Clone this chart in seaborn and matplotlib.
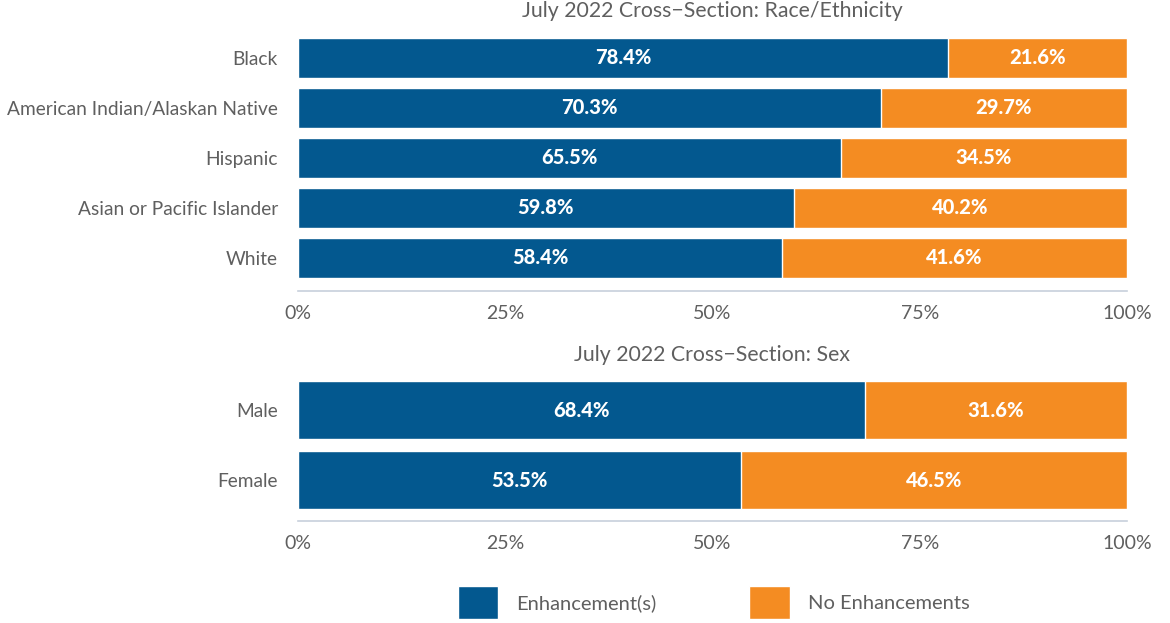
import matplotlib
matplotlib.use("Agg")
import matplotlib.pyplot as plt
import seaborn as sns
import pandas as pd
from matplotlib.patches import Patch

race_groups = ["Black", "American Indian/Alaskan Native", "Hispanic",
               "Asian or Pacific Islander", "White"]
race_enh = [78.4, 70.3, 65.5, 59.8, 58.4]
race_none = [21.6, 29.7, 34.5, 40.2, 41.6]

sex_groups = ["Male", "Female"]
sex_enh = [68.4, 53.5]
sex_none = [31.6, 46.5]

x_ticks = [0, 25, 50, 75, 100]
x_ticklabels = ["0%", "25%", "50%", "75%", "100%"]

BLUE = "#03588F"
ORANGE = "#F48C22"
GREY = "#5F5F5F"
AXIS = "#C7D0DC"

sns.set_theme(style="white")
plt.rcParams["font.family"] = ["Lato", "DejaVu Sans"]

fig = plt.figure(figsize=(11.7, 6.23), dpi=100)
ax1 = fig.add_axes([0.2547, 0.533, 0.7085, 0.427])
ax2 = fig.add_axes([0.2547, 0.1637, 0.7085, 0.244])


def panel(ax, groups, enh, none, title, width, pad):
    df = pd.DataFrame({"group": groups, "enh": enh, "none": none})
    df["total"] = df["enh"] + df["none"]
    sns.barplot(data=df, y="group", x="total", color=ORANGE, orient="h",
                width=width, saturation=1, ax=ax, order=groups)
    sns.barplot(data=df, y="group", x="enh", color=BLUE, orient="h",
                width=width, saturation=1, ax=ax, order=groups)
    for i, (e, n) in enumerate(zip(enh, none)):
        ax.text(e / 2, i, f"{e:.1f}%", ha="center", va="center",
                color="white", fontsize=14.5, fontweight="black")
        ax.text(e + n / 2, i, f"{n:.1f}%", ha="center", va="center",
                color="white", fontsize=14.5, fontweight="black")
    ax.set_xlim(0, 100)
    ax.set_ylim(len(groups) - 1 + pad, -pad)
    ax.set_xticks(x_ticks)
    ax.set_xticklabels(x_ticklabels)
    ax.set_xlabel("")
    ax.set_ylabel("")
    ax.set_title(title, fontsize=15.3, color=GREY, pad=6)
    ax.tick_params(axis="x", length=0, pad=10, labelsize=14, labelcolor=GREY)
    ax.tick_params(axis="y", length=0, pad=14.5, labelsize=13.8, labelcolor=GREY)
    for s in ["top", "right", "left"]:
        ax.spines[s].set_visible(False)
    ax.spines["bottom"].set_color(AXIS)
    ax.spines["bottom"].set_linewidth(1.2)


panel(ax1, race_groups, race_enh, race_none,
      "July 2022 Cross\u2212Section: Race/Ethnicity", 0.8, 0.66)
panel(ax2, sex_groups, sex_enh, sex_none,
      "July 2022 Cross\u2212Section: Sex", 0.83, 0.586)

handles = [Patch(facecolor=BLUE, label="Enhancement(s)"),
           Patch(facecolor=ORANGE, label="No Enhancements")]
fig.legend(handles=handles, loc="center", bbox_to_anchor=(0.61, 0.033),
           ncol=2, frameon=False, fontsize=14.5, handlelength=2.0,
           handleheight=2.2, handletextpad=0.9, columnspacing=4.6,
           labelcolor=GREY)

fig.savefig("out.png", dpi=100)
